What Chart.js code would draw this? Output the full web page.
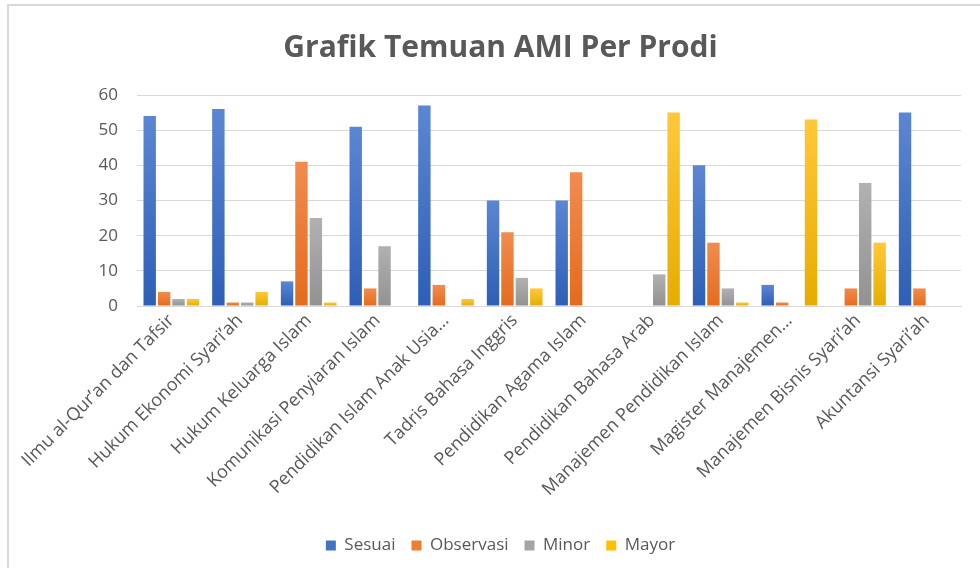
<!DOCTYPE html>
<html>
<head>
<meta charset="utf-8">
<script src="https://cdn.jsdelivr.net/npm/chart.js@4.4.1/dist/chart.umd.min.js"></script>
<style>
  html, body { margin: 0; padding: 0; background: #fff; overflow: hidden; }
  .frame {
    position: absolute; left: 7px; top: 4px; width: 1000px; height: 600px;
    border-top: 2px solid #d9d9d9; border-left: 2px solid #d9d9d9;
  }
  .wrap { position: absolute; left: 0; top: 0; width: 980px; height: 568px; }
</style>
</head>
<body>
<div class="frame"></div>
<div class="wrap"><canvas id="chart" width="980" height="568"></canvas></div>
<script>
const prodi = [
  'Ilmu al-Qur\u2019an dan Tafsir',
  'Hukum Ekonomi Syari\u2019ah',
  'Hukum Keluarga Islam',
  'Komunikasi Penyiaran Islam',
  'Pendidikan Islam Anak Usia\u2026',
  'Tadris Bahasa Inggris',
  'Pendidikan Agama Islam',
  'Pendidikan Bahasa Arab',
  'Manajemen Pendidikan Islam',
  'Magister Manajemen\u2026',
  'Manajemen Bisnis Syari\u2019ah',
  'Akuntansi Syari\u2019ah'
];
const sesuai    = [54, 56, 7, 51, 57, 30, 30, 0, 40, 6, 0, 55];
const observasi = [4, 1, 41, 5, 6, 21, 38, 0, 18, 1, 5, 5];
const minor     = [2, 1, 25, 17, 0, 8, 0, 9, 5, 0, 35, 0];
const mayor     = [2, 4, 1, 0, 2, 5, 0, 55, 1, 53, 18, 0];

const seriesNames = ['Sesuai', 'Observasi', 'Minor', 'Mayor'];
// [light top, dark bottom, legend]
const palette = [
  ['#5b86d2', '#2d5fb7', '#4472c4'],
  ['#f18c4f', '#e56b1c', '#ed7d31'],
  ['#b1b1b1', '#929292', '#a5a5a5'],
  ['#ffc83a', '#e5ad00', '#ffc000']
];

const textColor = '#595959';
const fontFamily = '"Open Sans", "Liberation Sans", sans-serif';

// each bar gets its own vertical gradient, like the office chart
function barFill(idx) {
  return (ctx) => {
    const chart = ctx.chart;
    const y = chart.scales && chart.scales.y;
    if (!y || ctx.raw == null || ctx.type !== 'data') return palette[idx][2];
    const top = y.getPixelForValue(ctx.raw);
    const bottom = y.getPixelForValue(0);
    if (!isFinite(top) || bottom - top < 1) return palette[idx][2];
    const g = chart.ctx.createLinearGradient(0, top, 0, bottom);
    g.addColorStop(0, palette[idx][0]);
    g.addColorStop(1, palette[idx][1]);
    return g;
  };
}

const datasets = [sesuai, observasi, minor, mayor].map((values, i) => ({
  label: seriesNames[i],
  data: values,
  backgroundColor: barFill(i),
  borderWidth: 0,
  categoryPercentage: 0.84,
  barPercentage: 0.86
}));

new Chart(document.getElementById('chart'), {
  type: 'bar',
  data: { labels: prodi, datasets },
  options: {
    responsive: false,
    animation: false,
    devicePixelRatio: 1,
    layout: { padding: { left: 40, right: 19, top: 30, bottom: 4 } },
    plugins: {
      title: {
        display: true,
        text: 'Grafik Temuan AMI Per Prodi',
        color: textColor,
        font: { family: fontFamily, size: 30, weight: 'bold' },
        padding: { top: 0, bottom: 29 }
      },
      legend: {
        position: 'bottom',
        labels: {
          color: textColor,
          font: { family: fontFamily, size: 17 },
          boxWidth: 10, boxHeight: 10,
          padding: 16,
          generateLabels: (chart) => seriesNames.map((name, i) => ({
            text: name,
            fillStyle: palette[i][2],
            strokeStyle: palette[i][2],
            lineWidth: 0,
            fontColor: textColor,
            datasetIndex: i,
            hidden: false
          }))
        }
      },
      tooltip: { enabled: false }
    },
    scales: {
      x: {
        grid: { display: false, drawTicks: false },
        border: { color: '#d9d9d9', width: 1 },
        afterFit: (scale) => { scale.height = 215; },
        ticks: {
          color: textColor,
          font: { family: fontFamily, size: 18 },
          maxRotation: 45, minRotation: 45,
          autoSkip: false,
          padding: 4
        }
      },
      y: {
        min: 0, max: 60,
        grid: { color: '#d9d9d9', lineWidth: 1, drawTicks: false },
        border: { display: false },
        afterFit: (scale) => { scale.width = 97; },
        ticks: {
          stepSize: 10,
          color: textColor,
          font: { family: fontFamily, size: 17 },
          padding: 19
        }
      }
    }
  }
});
</script>
</body>
</html>
